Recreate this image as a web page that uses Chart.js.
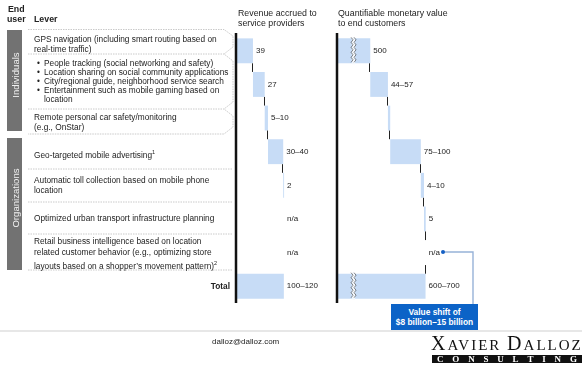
<!DOCTYPE html>
<html lang="en">
<head>
<meta charset="UTF-8">
<title>Location-based services value</title>
<script src="https://cdn.jsdelivr.net/npm/chart.js"></script>
<style>
  body { margin: 0; background: #fff; font-family: "Liberation Sans", Arial, sans-serif; color: #222; }
  #page { position: relative; width: 582px; height: 368px; overflow: hidden; }
  canvas { position: absolute; left: 0; top: 0; }
  .t { position: absolute; white-space: nowrap; font-size: 8.3px; line-height: 10px; }
  .b { font-weight: bold; }
  .h { font-size: 8.8px; }
  .side { position: absolute; left: 7px; width: 15px; background: #727272; }
  .side span { position: absolute; left: 50%; top: calc(50% - 6px); transform: translate(-50%, -50%) rotate(-90deg);
               color: #f2f2f2; font-size: 9.6px; white-space: nowrap; }
  .logo { position: absolute; left: 431px; top: 332px; font-family: "Liberation Serif", serif; font-size: 15px;
          letter-spacing: 2px; color: #111; white-space: nowrap; }
  .logo .big { font-size: 20px; }
  .bar { position: absolute; left: 432px; top: 355px; width: 150px; height: 8px; background: #111; color: #fff;
         font-family: "Liberation Serif", serif; font-weight: bold; font-size: 9px; line-height: 8px;
         display: flex; justify-content: space-between; padding: 0 5px 0 5px; box-sizing: border-box; }
  .box { position: absolute; left: 391px; top: 304px; width: 87px; height: 26px; background: #0c63c7; color: #fff;
         font-weight: bold; font-size: 8.4px; line-height: 10px; text-align: center; padding-top: 3px; box-sizing: border-box; }
</style>
</head>
<body>
<div id="page">
  <canvas id="revChart" width="582" height="368"></canvas>
  <canvas id="valChart" width="582" height="368"></canvas>

  <svg width="582" height="368" style="position:absolute;left:0;top:0">
    <g fill="none" stroke="#bdbdbd" stroke-width="0.8" stroke-dasharray="1.5,1">
      <path d="M28 29.5 H224 L233 36 V47 L224 54"/>
      <path d="M28 54 H224 L233 61 V102 L224 109"/>
      <path d="M28 109 H224 L233 116 V127 L224 134 H28"/>
      <path d="M28 169 H232"/>
      <path d="M28 202 H232"/>
      <path d="M28 234 H232"/>
      <path d="M28 270 H232"/>
    </g>
    <line x1="0" y1="331" x2="582" y2="331" stroke="#cfcfcf" stroke-width="1"/>
    <polyline points="443,252 473,252 473,304" fill="none" stroke="#97b2d8" stroke-width="1.4"/>
    <circle cx="443" cy="252" r="2" fill="#1560c4"/>
  </svg>

  <div class="t b h" style="left:8px;top:4px">End</div>
  <div class="t b h" style="left:7px;top:14px">user</div>
  <div class="t b h" style="left:34px;top:14px">Lever</div>
  <div class="t h" style="left:238px;top:8px">Revenue accrued to</div>
  <div class="t h" style="left:238px;top:18px">service providers</div>
  <div class="t h" style="left:338px;top:8px">Quantifiable monetary value</div>
  <div class="t h" style="left:338px;top:18px">to end customers</div>

  <div class="side" style="top:30px;height:101px"><span>Individuals</span></div>
  <div class="side" style="top:138px;height:132px"><span>Organizations</span></div>

  <div class="t" style="left:34px;top:34px">GPS navigation (including smart routing based on<br>real-time traffic)</div>
  <div class="t" style="left:37px;top:58.5px;line-height:9px">•<br>•<br>•<br>•</div>
  <div class="t" style="left:44px;top:58.5px;line-height:9px">People tracking (social networking and safety)<br>Location sharing on social community applications<br>City/regional guide, neighborhood service search<br>Entertainment such as mobile gaming based on<br>location</div>
  <div class="t" style="left:34px;top:112px">Remote personal car safety/monitoring<br>(e.g., OnStar)</div>
  <div class="t" style="left:34px;top:147px">Geo-targeted mobile advertising<sup style="font-size:5.5px">1</sup></div>
  <div class="t" style="left:34px;top:175px">Automatic toll collection based on mobile phone<br>location</div>
  <div class="t" style="left:34px;top:213px">Optimized urban transport infrastructure planning</div>
  <div class="t" style="left:34px;top:235.5px;line-height:11px">Retail business intelligence based on location<br>related customer behavior (e.g., optimizing store<br>layouts based on a shopper’s movement pattern)<sup style="font-size:5.5px">2</sup></div>
  <div class="t b" style="left:180px;top:281px;width:50px;text-align:right">Total</div>

  <div class="box">Value shift of<br>$8 billion–15 billion</div>
  <div class="t" style="left:212px;top:337px;font-size:8px">dalloz@dalloz.com</div>
  <div class="logo"><span class="big">X</span>AVIER <span class="big">D</span>ALLOZ</div>
  <div class="bar"><span>C</span><span>O</span><span>N</span><span>S</span><span>U</span><span>L</span><span>T</span><span>I</span><span>N</span><span>G</span></div>
</div>

<script>
  // rows of the waterfall (last one is the total)
  const rowNames = ['GPS navigation', 'Tracking, sharing, guides, gaming', 'Remote car safety',
                    'Geo-targeted advertising', 'Automatic toll collection', 'Urban transport planning',
                    'Retail business intelligence', 'Total'];

  // revenue accrued to service providers ($ billion)
  const revenueValues = [39, 27, 7.5, 35, 2, null, null, 110];
  const revenueLabels = ['39', '27', '5–10', '30–40', '2', 'n/a', 'n/a', '100–120'];

  // quantifiable monetary value to end customers ($ billion)
  const customerValues = [500, 50.5, 6.5, 87.5, 9, 5, null, 658];
  const customerLabels = ['500', '44–57', '', '75–100', '4–10', '5', 'n/a', '600–700'];
  const customerBreak = 405;   // amount cut out by the broken axis on the big bars

  const barColor = '#c7dcf6';

  function buildRanges(values, cut) {
    let run = 0;
    const ranges = [], ends = [];
    const last = values.length - 1;
    values.forEach((v, i) => {
      const shown = v == null ? null : (cut && v > cut ? v - cut : v);
      if (i === last) {
        ranges.push([0, shown]);
        ends.push(shown);
      } else if (shown == null) {
        ranges.push(null);
        ends.push(run);
      } else {
        ranges.push([run, run + shown]);
        run += shown;
        ends.push(run);
      }
    });
    return { ranges, ends };
  }

  function decor(values, labels, ends, opts) {
    return {
      id: 'decor',
      afterDatasetsDraw(chart) {
        const ctx = chart.ctx, xs = chart.scales.x, ys = chart.scales.y, a = chart.chartArea;
        const half = 12.5;
        const last = values.length - 1;
        ctx.save();
        // connectors
        ctx.strokeStyle = '#222';
        ctx.lineWidth = 1;
        for (let i = 0; i < last; i++) {
          if (!opts.throughNA && (values[i] == null || values[i + 1] == null)) continue;
          const px = Math.round(xs.getPixelForValue(ends[i])) - 0.5;
          ctx.beginPath();
          ctx.moveTo(px, ys.getPixelForValue(i) + half);
          ctx.lineTo(px, ys.getPixelForValue(i + 1) - half);
          ctx.stroke();
        }
        // axis breaks
        if (opts.breakAt != null) {
          opts.breakRows.forEach(i => {
            const cy = ys.getPixelForValue(i);
            const bx = xs.getPixelForValue(opts.breakAt);
            ctx.fillStyle = '#f4f8fd';
            ctx.fillRect(bx, cy - half - 1, 3, half * 2 + 2);
            ctx.strokeStyle = '#555';
            ctx.lineWidth = 0.7;
            [bx, bx + 3].forEach(x0 => {
              ctx.beginPath();
              for (let yy = cy - half - 1, k = 0; yy <= cy + half + 1; yy += 2.5, k++) {
                const xx = x0 + (k % 2 ? 1 : -1);
                if (k === 0) ctx.moveTo(xx, yy); else ctx.lineTo(xx, yy);
              }
              ctx.stroke();
            });
          });
        }
        // axis line
        ctx.strokeStyle = '#111';
        ctx.lineWidth = 2.5;
        ctx.beginPath();
        ctx.moveTo(a.left, a.top - 1);
        ctx.lineTo(a.left, a.bottom);
        ctx.stroke();
        // value labels
        ctx.fillStyle = '#222';
        ctx.font = '8px "Liberation Sans", Arial, sans-serif';
        ctx.textBaseline = 'middle';
        labels.forEach((lab, i) => {
          if (!lab) return;
          ctx.fillText(lab, xs.getPixelForValue(ends[i]) + 3, ys.getPixelForValue(i));
        });
        ctx.restore();
      }
    };
  }

  function makeChart(id, values, labels, cut, max, pad, opts) {
    const r = buildRanges(values, cut);
    return new Chart(document.getElementById(id), {
      type: 'bar',
      data: {
        labels: rowNames,
        datasets: [{
          data: r.ranges,
          backgroundColor: barColor,
          borderWidth: 0,
          barPercentage: 0.74,
          categoryPercentage: 1
        }]
      },
      options: {
        indexAxis: 'y',
        responsive: false,
        animation: false,
        layout: { padding: pad },
        scales: {
          x: { display: false, min: 0, max: max },
          y: { display: false }
        },
        plugins: { legend: { display: false }, tooltip: { enabled: false } }
      },
      plugins: [decor(values, labels, r.ends, opts)]
    });
  }

  makeChart('revChart', revenueValues, revenueLabels, 0, 200,
            { left: 236, right: 259, top: 34, bottom: 65 }, { throughNA: false });
  makeChart('valChart', customerValues, customerLabels, customerBreak, 400,
            { left: 337, right: 105, top: 34, bottom: 65 },
            { throughNA: true, breakAt: 43, breakRows: [0, 7] });
</script>
</body>
</html>
